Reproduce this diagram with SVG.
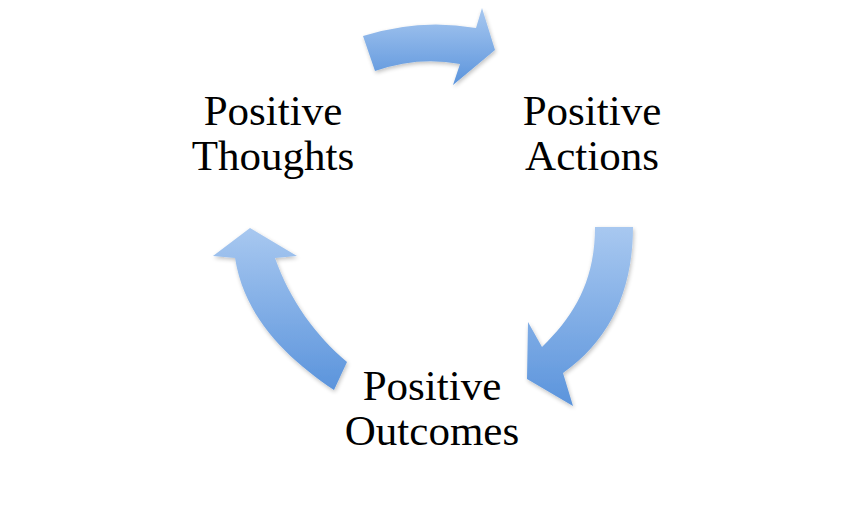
<svg xmlns="http://www.w3.org/2000/svg" width="865" height="505" viewBox="0 0 865 505">
<defs>
<linearGradient id="g" x1="0" y1="0" x2="0" y2="1">
<stop offset="0" stop-color="#a8c8f0"/>
<stop offset="1" stop-color="#5b94dc"/>
</linearGradient>
<linearGradient id="gh" x1="0" y1="0" x2="1" y2="1">
<stop offset="0" stop-color="#9fc2ef"/>
<stop offset="1" stop-color="#5e96dd"/>
</linearGradient>
<filter id="sh" x="-20%" y="-20%" width="140%" height="140%">
<feGaussianBlur in="SourceAlpha" stdDeviation="2"/>
<feOffset dx="1" dy="2" result="b"/>
<feComponentTransfer><feFuncA type="linear" slope="0.25"/></feComponentTransfer>
<feMerge><feMergeNode/><feMergeNode in="SourceGraphic"/></feMerge>
</filter>
</defs>
<style>
.lbl{font-family:"Liberation Serif","DejaVu Serif",serif;font-size:43px;fill:#000;text-anchor:middle}
.arr{filter:url(#sh)}
</style>
<rect width="865" height="505" fill="#fff"/>
<g id="connectors">
<path class="arr" fill="url(#g)" d="M363,36 Q420,18 476,28 L482,8 L495,50 L453,85 L460,64 Q418,56 375,71 Z"/>
<path class="arr" fill="url(#g)" d="M595,227 L633,227 C633,290 610,340 563,373 L573,406 L527,379 L528,322 L542,347 C575,315 595,280 595,227 Z"/>
<path class="arr" fill="url(#g)" d="M250,228 L297,256 L275,258 C290,300 315,335 347,362 L334,390 C290,360 245,320 235,258 L213,256 Z"/>
</g>
<g id="thoughts">
<text class="lbl" x="273" y="125">Positive</text>
<text class="lbl" x="273" y="170">Thoughts</text>
</g>
<g id="actions">
<text class="lbl" x="592" y="125">Positive</text>
<text class="lbl" x="592" y="170">Actions</text>
</g>
<g id="outcomes">
<text class="lbl" x="432" y="400">Positive</text>
<text class="lbl" x="432" y="445">Outcomes</text>
</g>
</svg>
